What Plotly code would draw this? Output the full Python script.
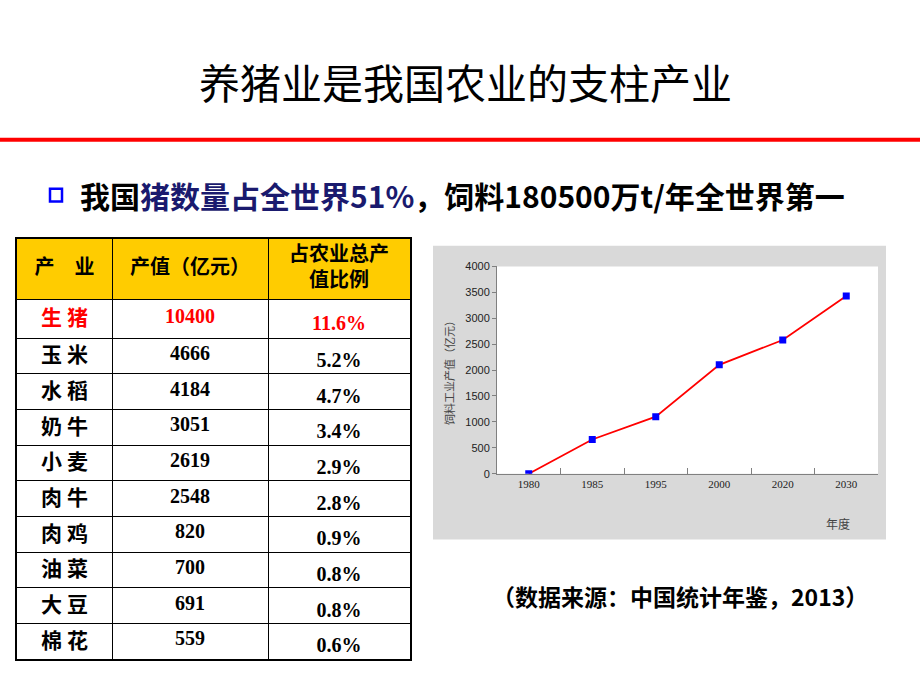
import plotly.graph_objects as go

W, H = 920, 690

# ---- data ----
industries = ["生 猪", "玉 米", "水 稻", "奶 牛", "小 麦", "肉 牛", "肉 鸡", "油 菜", "大 豆", "棉 花"]
output_value = [10400, 4666, 4184, 3051, 2619, 2548, 820, 700, 691, 559]
share_pct = ["11.6%", "5.2%", "4.7%", "3.4%", "2.9%", "2.8%", "0.9%", "0.8%", "0.8%", "0.6%"]
header_labels = ["产　业", "产值（亿元）", "占农业总产<br>值比例"]

years = ["1980", "1985", "1995", "2000", "2020", "2030"]
feed_value = [0, 660, 1100, 2100, 2580, 3430]
y_ticks = [0, 500, 1000, 1500, 2000, 2500, 3000, 3500, 4000]

title_text = "养猪业是我国农业的支柱产业"
source_text = "（数据来源：中国统计年鉴，2013）"

CJK = "Noto Sans CJK SC"
SERIF = "Liberation Serif"

def px(x):
    return x / W

def py(y):
    return 1 - y / H

# ---- table geometry (layout, pixels) ----
col_w = [95, 156, 142]
header_h = 62
first_row_h = 39
row_h = 36.3
col_edges = [0]
for w in col_w:
    col_edges.append(col_edges[-1] + w)
row_edges = [0, header_h, header_h + first_row_h]
for _ in range(len(industries) - 1):
    row_edges.append(row_edges[-1] + row_h)
table_w = col_edges[-1]
table_h = row_edges[-1]
col_centers = [(col_edges[i] + col_edges[i + 1]) / 2 for i in range(len(col_w))]
col_dy = [1, -1, 6]  # vertical nudge per column

tx, ty, tt, tcol, tfam, tsize = [], [], [], [], [], []
for c, lab in enumerate(header_labels):
    tx.append(col_centers[c]); ty.append(header_h / 2)
    tt.append(f"<b>{lab}</b>"); tcol.append("black"); tfam.append(CJK); tsize.append(20)
columns = [industries, [str(v) for v in output_value], share_pct]
for r in range(len(industries)):
    yc = (row_edges[r + 1] + row_edges[r + 2]) / 2
    color = "#FF0000" if r == 0 else "black"
    for c, colvals in enumerate(columns):
        tx.append(col_centers[c]); ty.append(yc + col_dy[c])
        tt.append(f"<b>{colvals[r]}</b>"); tcol.append(color)
        tfam.append(CJK if c == 0 else SERIF); tsize.append(21 if c == 0 else 20)

fig = go.Figure()

fig.add_trace(go.Scatter(
    x=tx, y=ty, text=tt, mode="text",
    textposition="middle center",
    textfont=dict(family=tfam, size=tsize, color=tcol),
    xaxis="x2", yaxis="y2", showlegend=False, hoverinfo="skip",
))

# ---- line chart ----
fig.add_trace(go.Scatter(
    x=years, y=feed_value,
    mode="lines+markers",
    line=dict(color="#FF0000", width=1.8),
    marker=dict(symbol="square", size=7, color="#0000FF"),
    xaxis="x", yaxis="y",
    showlegend=False,
    hoverinfo="skip",
))

fig.update_layout(
    width=W, height=H,
    margin=dict(l=0, r=0, t=0, b=0),
    paper_bgcolor="white",
    plot_bgcolor="rgba(0,0,0,0)",
    showlegend=False,
    xaxis=dict(
        domain=[px(497), px(878)],
        type="category",
        range=[-0.5, 5.5],
        tickson="boundaries",
        ticks="inside",
        ticklen=6,
        tickcolor="#808080",
        showline=True, linecolor="#808080", linewidth=1,
        showgrid=False, zeroline=False,
        tickfont=dict(family=SERIF, size=11, color="#222222"),
        fixedrange=True,
    ),
    yaxis=dict(
        domain=[py(476), py(265)],
        range=[0, 4000],
        tickvals=y_ticks,
        ticks="outside",
        ticklen=4,
        tickcolor="#808080",
        showline=True, linecolor="#808080", linewidth=1,
        showgrid=False, zeroline=False,
        tickfont=dict(family="Liberation Sans", size=11, color="#222222"),
        title=dict(text="饲料工业产值（亿元）", font=dict(family=CJK, size=11, color="#444444"), standoff=8),
        fixedrange=True,
    ),
    xaxis2=dict(
        domain=[px(17), px(17 + table_w)],
        range=[0, table_w],
        anchor="y2",
        tickvals=col_edges, showticklabels=False, ticks="",
        showgrid=True, gridcolor="black", gridwidth=1,
        showline=True, mirror=True, linecolor="black", linewidth=1.5,
        zeroline=False, fixedrange=True,
    ),
    yaxis2=dict(
        domain=[py(237 + table_h), py(237)],
        range=[table_h, 0],
        anchor="x2",
        tickvals=row_edges, showticklabels=False, ticks="",
        showgrid=True, gridcolor="black", gridwidth=1,
        showline=True, mirror=True, linecolor="black", linewidth=1.5,
        zeroline=False, fixedrange=True,
    ),
    shapes=[
        # gray chart frame
        dict(type="rect", xref="paper", yref="paper", x0=px(433), x1=px(886), y0=py(543), y1=py(244),
             fillcolor="#D9D9D9", line=dict(width=0), layer="below"),
        # white plot area
        dict(type="rect", xref="x domain", yref="y domain", x0=0, x1=1, y0=0, y1=1,
             fillcolor="white", line=dict(width=0), layer="below"),
        # table header fill
        dict(type="rect", xref="x2 domain", yref="y2", x0=0, x1=1, y0=0, y1=header_h,
             fillcolor="#FFCC00", line=dict(width=0), layer="below"),
        # red rule under title
        dict(type="line", xref="paper", yref="paper", x0=0, x1=1, y0=py(136), y1=py(136),
             line=dict(color="#FF0000", width=4)),
        # bullet square
        dict(type="rect", xref="paper", yref="paper", x0=px(50), x1=px(62), y0=py(199), y1=py(186),
             fillcolor="white", line=dict(color="#0000FF", width=2.5)),
    ],
    annotations=[
        dict(text=title_text, xref="paper", yref="paper", x=px(465), y=py(76), xanchor="center", yanchor="middle",
             showarrow=False, font=dict(family=CJK, size=41, color="black")),
        dict(text="<b>我国<span style='color:#1A1A6E'>猪数量占全世界51%</span>，饲料180500万t/年全世界第一</b>",
             xref="paper", yref="paper", x=px(78), y=py(192), xanchor="left", yanchor="middle",
             showarrow=False, font=dict(family=CJK, size=30, color="black")),
        dict(text="年度", xref="paper", yref="paper", x=px(838), y=py(527), xanchor="center", yanchor="middle",
             showarrow=False, font=dict(family=CJK, size=12, color="#444444")),
        dict(text="<b>" + source_text + "</b>", xref="paper", yref="paper", x=px(680), y=py(600),
             xanchor="center", yanchor="middle",
             showarrow=False, font=dict(family=CJK, size=23, color="black")),
    ],
)

fig.write_html(
    "out.html",
    config={"displayModeBar": False},
    post_script="document.body.style.margin='0';document.body.style.overflow='hidden';",
)
